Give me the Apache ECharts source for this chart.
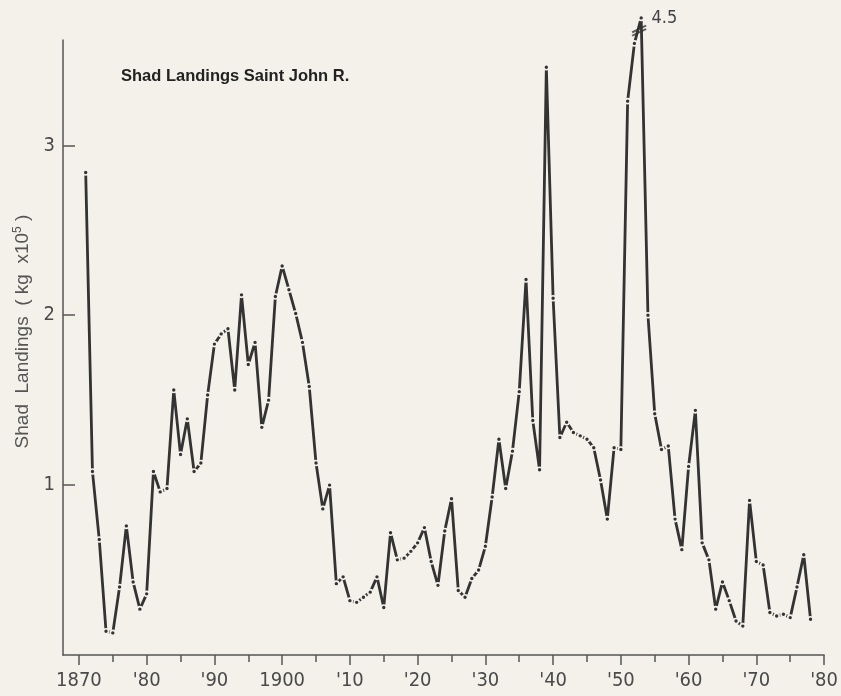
<!DOCTYPE html>
<html><head><meta charset="utf-8">
<script src="https://cdn.jsdelivr.net/npm/echarts@6/dist/echarts.min.js"></script>
<style>html,body{margin:0;padding:0;background:#f3f1ea}#c{width:841px;height:696px}</style>
</head><body><div id="c"></div>
<script>
// ---- data ----
const YEARS = [];
for (let y = 1871; y <= 1978; y++) YEARS.push(y);
const LANDINGS = [
  2.84, 1.08, 0.68, 0.14, 0.13, 0.40, 0.76, 0.43, 0.27, 0.36,   // 1871-1880
  1.08, 0.96, 0.98, 1.56, 1.18, 1.39, 1.08, 1.13, 1.53, 1.83,   // 1881-1890
  1.89, 1.92, 1.56, 2.12, 1.71, 1.84, 1.34, 1.50, 2.11, 2.29,   // 1891-1900
  2.15, 2.01, 1.84, 1.58, 1.13, 0.86, 1.00, 0.42, 0.46, 0.32,   // 1901-1910
  0.31, 0.34, 0.37, 0.46, 0.28, 0.72, 0.56, 0.57, 0.61, 0.66,   // 1911-1920
  0.75, 0.55, 0.41, 0.73, 0.92, 0.38, 0.34, 0.45, 0.50, 0.64,   // 1921-1930
  0.93, 1.27, 0.98, 1.20, 1.55, 2.21, 1.38, 1.09, 3.46, 2.10,   // 1931-1940
  1.28, 1.37, 1.31, 1.29, 1.27, 1.22, 1.03, 0.80, 1.22, 1.21,   // 1941-1950
  3.26, 3.60, 4.5,  2.00, 1.42, 1.21, 1.23, 0.80, 0.62, 1.11,   // 1951-1960
  1.44, 0.66, 0.56, 0.27, 0.43, 0.32, 0.20, 0.17, 0.91, 0.55,   // 1961-1970
  0.53, 0.25, 0.23, 0.24, 0.22, 0.40, 0.59, 0.21                // 1971-1978
];
const X_MAJOR_TICKS = [1870,1880,1890,1900,1910,1920,1930,1940,1950,1960,1970,1980];
const X_MINOR_TICKS = [1875,1885,1895,1905,1915,1925,1935,1945,1955,1965,1975];
const X_LABELS = ['1870',"'80","'90",'1900',"'10","'20","'30","'40","'50","'60","'70","'80"];
const Y_TICKS = [1, 2, 3];
const Y_LABELS = ['1', '2', '3'];
const TITLE = 'Shad Landings Saint John R.';
const Y_NAME = 'Shad  Landings  ( kg  x10{sup|5} )';
const PLOT_CAP = 3.75;      // height at which an off-scale value is drawn (broken axis)

// ---- build ----
const INK = '#333333';
const BG = '#f3f1ea';
const display = LANDINGS.map(v => Math.min(v, PLOT_CAP));
const labelFont = "'Liberation Sans Narrow','DejaVu Sans Condensed',sans-serif";
const lineData = YEARS.map((y, i) => {
  const d = { value: [y, display[i]] };
  if (LANDINGS[i] > PLOT_CAP) {
    d.label = { show: true, position: 'right', distance: 7, formatter: String(LANDINGS[i]),
      fontSize: 18, color: '#444', fontFamily: labelFont };
  }
  return d;
});
const breakData = [];
YEARS.forEach((y, i) => {
  if (LANDINGS[i] > PLOT_CAP && i > 0) breakData.push([y - 0.3, (display[i - 1] + display[i]) / 2]);
});

const chart = echarts.init(document.getElementById('c'), null, { renderer: 'canvas' });
chart.setOption({
  backgroundColor: BG,
  animation: false,
  title: {
    text: TITLE, left: 116, top: 63,
    textStyle: { fontSize: 16.5, fontWeight: 'bold', color: '#222', fontFamily: "'Liberation Sans',Arial,sans-serif" }
  },
  grid: { left: 63, right: 13, top: 40, bottom: 41 },
  xAxis: [{
    type: 'value', min: 1867.65, max: 1980,
    axisLine: { show: true, lineStyle: { color: '#555', width: 1.5 } },
    axisTick: { show: true, inside: false, length: 10, customValues: X_MAJOR_TICKS, lineStyle: { color: '#555', width: 1.5 } },
    axisLabel: {
      customValues: X_MAJOR_TICKS, margin: 16, fontSize: 20, color: '#4a4a4a', fontFamily: labelFont,
      formatter: v => X_LABELS[X_MAJOR_TICKS.indexOf(Math.round(v))]
    },
    splitLine: { show: false }
  }, {
    type: 'value', min: 1867.65, max: 1980, gridIndex: 0, position: 'bottom',
    axisLine: { show: false },
    axisTick: { show: true, inside: false, length: 7, customValues: X_MINOR_TICKS, lineStyle: { color: '#555', width: 1.5 } },
    axisLabel: { show: false },
    splitLine: { show: false }
  }],
  yAxis: {
    type: 'value', min: 0, max: 3.62,
    name: Y_NAME, nameLocation: 'middle', nameRotate: 90, nameGap: 30,
    nameTextStyle: {
      fontSize: 19, color: '#555', fontFamily: "'Liberation Sans',Arial,sans-serif", padding: [0, 0, 0, 32],
      rich: { sup: { fontSize: 12, color: '#555', verticalAlign: 'top', padding: [0, 0, 9, 0] } }
    },
    axisLine: { show: true, lineStyle: { color: '#555', width: 1.5 } },
    axisTick: { show: true, inside: true, length: 12, customValues: Y_TICKS, lineStyle: { color: '#555', width: 1.5 } },
    axisLabel: {
      customValues: Y_TICKS, margin: 8, fontSize: 20, color: '#4a4a4a', fontFamily: labelFont,
      formatter: v => Y_LABELS[Y_TICKS.indexOf(Math.round(v))]
    },
    splitLine: { show: false }
  },
  series: [{
    type: 'line', data: lineData, clip: false,
    symbol: 'circle', symbolSize: 5, showAllSymbol: true,
    lineStyle: { color: INK, width: 2.8 },
    itemStyle: { color: INK, borderColor: BG, borderWidth: 1.6 },
    z: 3
  }, {
    type: 'scatter', data: breakData, clip: false,
    symbol: 'path://M0,11 L14,3 M0,15 L14,7', symbolSize: [14, 12], symbolKeepAspect: true,
    itemStyle: { color: 'none', borderColor: INK, borderWidth: 2 },
    z: 4, silent: true
  }]
});
</script></body></html>
